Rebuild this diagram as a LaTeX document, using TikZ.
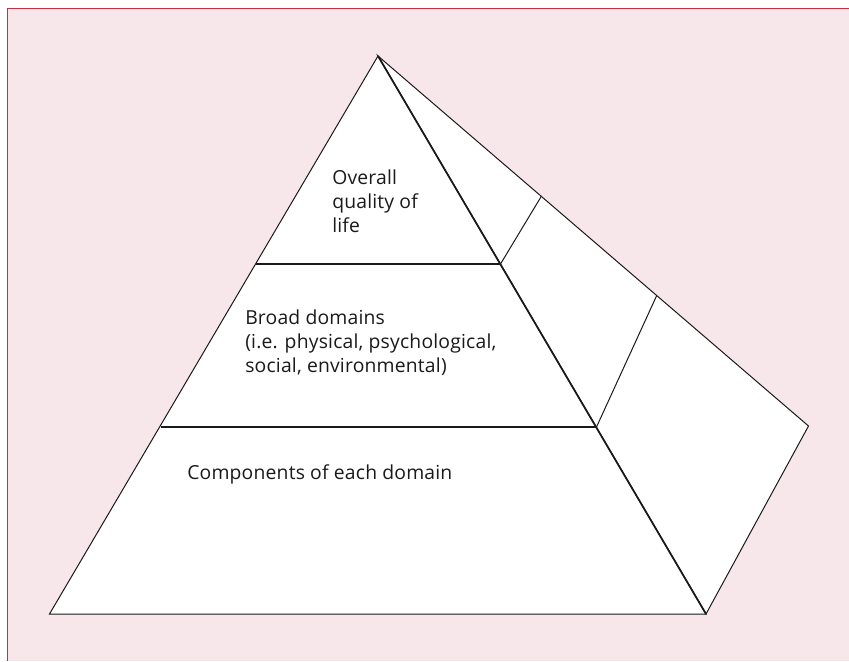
\documentclass[tikz,border=0pt]{standalone}
\usepackage{fontspec}
\setmainfont{Open Sans}[LetterSpace=1]
\definecolor{bgpink}{HTML}{F7E7EB}
\definecolor{framered}{HTML}{C4303F}
\definecolor{inkblack}{HTML}{1A1A1A}
\tikzset{
  face/.style={fill=white, draw=inkblack, line width=0.75pt, line join=miter},
  edge/.style={draw=inkblack, line width=0.75pt},
  boldedge/.style={draw=inkblack, line width=1.3pt},
  label/.style={anchor=base west, align=left, inner sep=0pt, text=inkblack,
    font=\fontsize{14.5pt}{18pt}\selectfont}
}
\begin{document}
\begin{tikzpicture}[x=0.75pt,y=-0.75pt]
\useasboundingbox (0,0) rectangle (849,661);
% background panel
\fill[white] (0,0) rectangle (849,661);
\fill[bgpink] (8,9) rectangle (849,661);
\draw[framered, line width=1.2pt] (7.5,661) -- (7.5,8.5) -- (849,8.5);
% key points
\coordinate (apex) at (378,56);
\coordinate (bl) at (49.5,614);
\coordinate (br) at (706,614);
\coordinate (back) at (808.5,426);
\coordinate (l1) at (256,264);
\coordinate (r1) at (500.5,264);
\coordinate (l2) at (160.5,427);
\coordinate (r2) at (596.5,427);
\coordinate (b1) at (541.5,196);
\coordinate (b2) at (656.5,296);
% side face
\path[face] (apex) -- (back) -- (br) -- cycle;
% front face
\path[face] (apex) -- (br) -- (bl) -- cycle;
% tiers
\draw[edge, line width=0.9pt] (l1) -- (r1);
\draw[edge, line width=0.9pt] (l2) -- (r2);
% side dividers
\draw[edge] (r1) -- (b1);
\draw[edge] (r2) -- (b2);
% front right edge (bold)
\draw[boldedge] (apex) -- (br);
% labels (anchored at the baseline of their last line)
\node[label] (top) at (332,232) {Overall\\quality of\\life};
\node[label] (mid) at (245,372) {Broad domains\\(i.e. physical, psychological,\\social, environmental)};
\node[label] (bot) at (187,479) {Components of each domain};
\end{tikzpicture}
\end{document}
